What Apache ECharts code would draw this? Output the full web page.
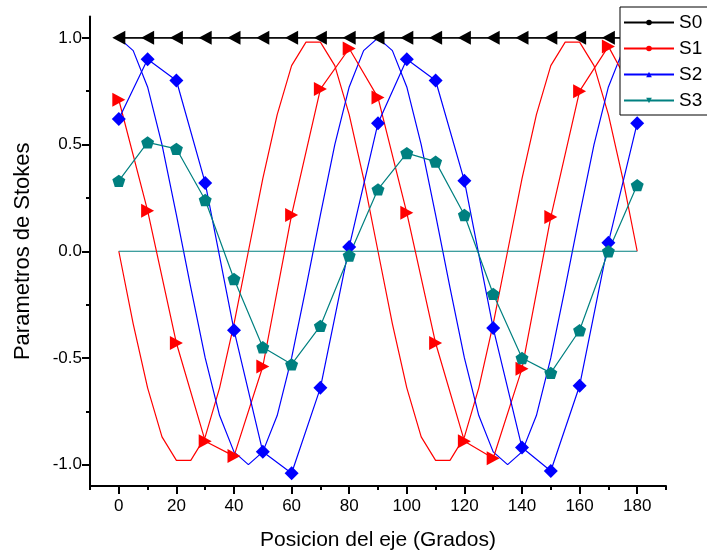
<!DOCTYPE html>
<html>
<head>
<meta charset="utf-8">
<script src="https://cdn.jsdelivr.net/npm/echarts@6/dist/echarts.min.js"></script>
<style>
html,body{margin:0;padding:0;background:#fff;}
#chart{width:707px;height:558px;}
</style>
</head>
<body>
<div id="chart"></div>
<script>
// Theory curves, x step 5 degrees
const xTheory = [0,5,10,15,20,25,30,35,40,45,50,55,60,65,70,75,80,85,90,95,100,105,110,115,120,125,130,135,140,145,150,155,160,165,170,175,180];
const s0Theory = [1,1,1,1,1,1,1,1,1,1,1,1,1,1,1,1,1,1,1,1,1,1,1,1,1,1,1,1,1,1,1,1,1,1,1,1,1];
const s1Theory = [0,-0.34,-0.64,-0.87,-0.98,-0.98,-0.87,-0.64,-0.34,0,0.34,0.64,0.87,0.98,0.98,0.87,0.64,0.34,0,-0.34,-0.64,-0.87,-0.98,-0.98,-0.87,-0.64,-0.34,0,0.34,0.64,0.87,0.98,0.98,0.87,0.64,0.34,0];
const s2Theory = [1,0.94,0.77,0.5,0.17,-0.17,-0.5,-0.77,-0.94,-1,-0.94,-0.77,-0.5,-0.17,0.17,0.5,0.77,0.94,1,0.94,0.77,0.5,0.17,-0.17,-0.5,-0.77,-0.94,-1,-0.94,-0.77,-0.5,-0.17,0.17,0.5,0.77,0.94,1];
const s3Theory = [0,0,0,0,0,0,0,0,0,0,0,0,0,0,0,0,0,0,0,0,0,0,0,0,0,0,0,0,0,0,0,0,0,0,0,0,0];

// Measured points, x step 10 degrees
const xExp = [0,10,20,30,40,50,60,70,80,90,100,110,120,130,140,150,160,170,180];
const s0Exp = [1,1,1,1,1,1,1,1,1,1,1,1,1,1,1,1,1,1,1];
const s1Exp = [0.71,0.19,-0.43,-0.89,-0.96,-0.54,0.17,0.76,0.95,0.72,0.18,-0.43,-0.89,-0.97,-0.55,0.16,0.75,0.96,0.71];
const s2Exp = [0.62,0.90,0.80,0.32,-0.37,-0.94,-1.04,-0.64,0.02,0.60,0.90,0.80,0.33,-0.36,-0.92,-1.03,-0.63,0.04,0.60];
const s3Exp = [0.33,0.51,0.48,0.24,-0.13,-0.45,-0.53,-0.35,-0.02,0.29,0.46,0.42,0.17,-0.20,-0.50,-0.57,-0.37,0.00,0.31];

const xMajor = [0,20,40,60,80,100,120,140,160,180];
const xMinor = [-10,10,30,50,70,90,110,130,150,170,190];
const yMajor = [-1,-0.5,0,0.5,1];
const yMinor = [-0.75,-0.25,0.25,0.75];

const legendNames = ['S0','S1','S2','S3'];
const colors = ['#000000','#FF0000','#0000FF','#008080'];

const FONT = "'Liberation Sans', Arial, sans-serif";
const pair = (xs, ys) => xs.map((x, i) => [x, ys[i]]);
const pentagon = 'path://M50 0 L100 36.3 L80.9 95.1 L19.1 95.1 L0 36.3 Z';

const chart = echarts.init(document.getElementById('chart'), null, {renderer: 'canvas'});

const axisLineStyle = {color: '#000', width: 2};

const option = {
  animation: false,
  backgroundColor: '#fff',
  grid: {left: 90, right: 41, top: 16.5, bottom: 72, containLabel: false},
  legend: {
    data: legendNames,
    orient: 'vertical',
    left: 620,
    top: 7,
    z: 10,
    backgroundColor: '#fff',
    borderColor: '#000',
    borderWidth: 1,
    borderRadius: 0,
    padding: [6, 10, 5, 3],
    itemWidth: 50,
    itemHeight: 7,
    itemGap: 7,
    textStyle: {fontFamily: FONT, fontSize: 19, color: '#000', padding: [0,0,0,0]},
    selectedMode: false
  },
  xAxis: [
    {
      type: 'value', min: -10, max: 190, position: 'bottom',
      name: 'Posicion del eje (Grados)', nameLocation: 'middle', nameGap: 44,
      nameTextStyle: {fontFamily: FONT, fontSize: 21, color: '#000'},
      axisLine: {show: true, onZero: false, lineStyle: axisLineStyle},
      axisTick: {show: true, inside: false, length: 8, lineStyle: {color: '#000', width: 2}, customValues: xMajor},
      axisLabel: {show: true, customValues: xMajor, margin: 12, fontFamily: FONT, fontSize: 17, color: '#000'},
      splitLine: {show: false}
    },
    {
      type: 'value', min: -10, max: 190, position: 'bottom',
      axisLine: {show: false, onZero: false},
      axisTick: {show: true, inside: false, length: 4, lineStyle: {color: '#000', width: 2}, customValues: xMinor},
      axisLabel: {show: false},
      splitLine: {show: false}
    }
  ],
  yAxis: [
    {
      type: 'value', min: -1.1, max: 1.1, position: 'left',
      name: 'Parametros de Stokes', nameLocation: 'middle', nameGap: 56,
      nameTextStyle: {fontFamily: FONT, fontSize: 22, color: '#000'},
      axisLine: {show: true, onZero: false, lineStyle: axisLineStyle},
      axisTick: {show: true, inside: false, length: 8, lineStyle: {color: '#000', width: 2}, customValues: yMajor},
      axisLabel: {show: true, customValues: yMajor, margin: 8, fontFamily: FONT, fontSize: 17, color: '#000',
        formatter: v => Number(v).toFixed(1)},
      splitLine: {show: false}
    },
    {
      type: 'value', min: -1.1, max: 1.1, position: 'left',
      axisLine: {show: false, onZero: false},
      axisTick: {show: true, inside: false, length: 4, lineStyle: {color: '#000', width: 2}, customValues: yMinor},
      axisLabel: {show: false},
      splitLine: {show: false}
    }
  ],
  series: [
    // theory curves (legend entries)
    {name: 'S0', type: 'line', data: pair(xTheory, s0Theory), symbol: 'circle', showSymbol: false,
      lineStyle: {color: colors[0], width: 1.3}, itemStyle: {color: colors[0]}, z: 2},
    {name: 'S1', type: 'line', data: pair(xTheory, s1Theory), symbol: 'circle', showSymbol: false,
      lineStyle: {color: colors[1], width: 1.2}, itemStyle: {color: colors[1]}, z: 2},
    {name: 'S2', type: 'line', data: pair(xTheory, s2Theory), symbol: 'triangle', showSymbol: false,
      lineStyle: {color: colors[2], width: 1.2}, itemStyle: {color: colors[2]}, z: 2},
    {name: 'S3', type: 'line', data: pair(xTheory, s3Theory), symbol: 'triangle', symbolRotate: 180, showSymbol: false,
      lineStyle: {color: colors[3], width: 1.2}, itemStyle: {color: colors[3]}, z: 2},
    // measured points
    {name: 'S0 medido', type: 'line', data: pair(xExp, s0Exp), symbol: 'triangle', symbolRotate: 90, symbolSize: [14, 13],
      showAllSymbol: true, lineStyle: {color: colors[0], width: 1.3}, itemStyle: {color: colors[0]}, z: 3},
    {name: 'S1 medido', type: 'line', data: pair(xExp, s1Exp), symbol: 'triangle', symbolRotate: -90, symbolSize: [14, 13],
      showAllSymbol: true, lineStyle: {color: colors[1], width: 1.2}, itemStyle: {color: colors[1]}, z: 3},
    {name: 'S2 medido', type: 'line', data: pair(xExp, s2Exp), symbol: 'diamond', symbolSize: 14,
      showAllSymbol: true, lineStyle: {color: colors[2], width: 1.2}, itemStyle: {color: colors[2]}, z: 3},
    {name: 'S3 medido', type: 'line', data: pair(xExp, s3Exp), symbol: pentagon, symbolKeepAspect: true, symbolSize: 13,
      showAllSymbol: true, lineStyle: {color: colors[3], width: 1.2}, itemStyle: {color: colors[3]}, z: 3}
  ]
};
chart.setOption(option);
</script>
</body>
</html>
